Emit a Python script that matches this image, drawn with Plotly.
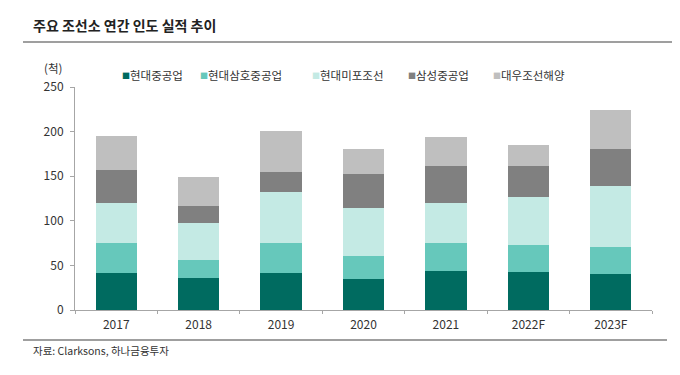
import plotly.graph_objects as go

years = ["2017", "2018", "2019", "2020", "2021", "2022F", "2023F"]
series_names = ["현대중공업", "현대삼호중공업", "현대미포조선", "삼성중공업", "대우조선해양"]
hhi = [41, 35.5, 41, 34.5, 44, 42.5, 40]
samho = [34, 20.5, 34, 26, 31, 30.5, 30.5]
mipo = [45.5, 42, 57, 54, 45, 54, 68]
samsung = [36, 18.5, 23, 37.5, 42, 35, 42]
daewoo = [39, 32.5, 45.5, 28.5, 32.5, 22.5, 44]
values = [hhi, samho, mipo, samsung, daewoo]
colors = ["#006B60", "#66C8BB", "#C4EAE4", "#808080", "#BFBFBF"]

font_family = "Noto Sans CJK KR, Noto Sans, sans-serif"
TXT = "#333333"

# page pixel -> paper coords (plot area occupies page px x 75..652, y 87..310)
PL, PR, PT, PB = 75, 652, 87, 310
def xp(px):
    return (px - PL) / (PR - PL)
def yp(py):
    return (PB - py) / (PB - PT)

fig = go.Figure()
for name, vals, c in zip(series_names, values, colors):
    fig.add_trace(go.Bar(name=name, x=years, y=vals, marker=dict(color=c, line=dict(width=0)),
                         showlegend=False))

# page has an 8px body margin, so the figure is 672x367 placed at (8,8)
W, H = 672, 367
OFF = 8

legend_x = [121, 199, 311, 407, 492]
annotations = [
    dict(text="<b>주요 조선소 연간 인도 실적 추이</b>", xref="paper", yref="paper",
         x=xp(31), y=yp(25), xanchor="left", yanchor="middle", showarrow=False,
         font=dict(size=14, color="#222222")),
    dict(text="(척)", xref="paper", yref="paper", x=xp(64), y=yp(68),
         xanchor="right", yanchor="middle", showarrow=False, font=dict(size=11.5, color=TXT)),
    dict(text="자료: Clarksons, 하나금융투자", xref="paper", yref="paper", x=xp(31),
         y=yp(350), xanchor="left", yanchor="middle", showarrow=False,
         font=dict(size=10.5, color=TXT)),
]
for lx, name, c in zip(legend_x, series_names, colors):
    annotations.append(dict(text="■", xref="paper", yref="paper", x=xp(lx - 1), y=yp(75),
                            xanchor="left", yanchor="middle", showarrow=False,
                            font=dict(size=8, color=c)))
    annotations.append(dict(text=name, xref="paper", yref="paper", x=xp(lx + 7), y=yp(75),
                            xanchor="left", yanchor="middle", showarrow=False,
                            font=dict(size=11.5, color=TXT)))

fig.update_layout(
    barmode="stack",
    bargap=0.5,
    width=W, height=H,
    margin=dict(l=PL - OFF, r=W - (PR - OFF), t=PT - OFF, b=H - (PB - OFF), pad=0),
    paper_bgcolor="white", plot_bgcolor="white",
    font=dict(family=font_family, size=12, color=TXT),
    showlegend=False,
    xaxis=dict(type="category", showline=True, linecolor="#A6A6A6", linewidth=1,
               ticks="outside", tickson="boundaries", ticklen=3, tickcolor="#A6A6A6",
               ticklabelstandoff=4,
               tickfont=dict(size=12, color=TXT), showgrid=False),
    yaxis=dict(range=[0, 250], dtick=50, showline=True, linecolor="#A6A6A6", linewidth=1,
               ticks="outside", ticklen=4, tickcolor="#A6A6A6", showgrid=False, zeroline=False,
               ticklabelstandoff=4,
               tickfont=dict(size=12, color=TXT)),
    shapes=[
        dict(type="line", xref="paper", yref="paper", x0=xp(23), x1=xp(680),
             y0=yp(42), y1=yp(42), line=dict(color="#7F7F7F", width=1.5)),
        dict(type="line", xref="paper", yref="paper", x0=xp(23), x1=xp(667),
             y0=yp(340), y1=yp(340), line=dict(color="#7F7F7F", width=1.5)),
    ],
    annotations=annotations,
)

fig.write_html("out.html")
